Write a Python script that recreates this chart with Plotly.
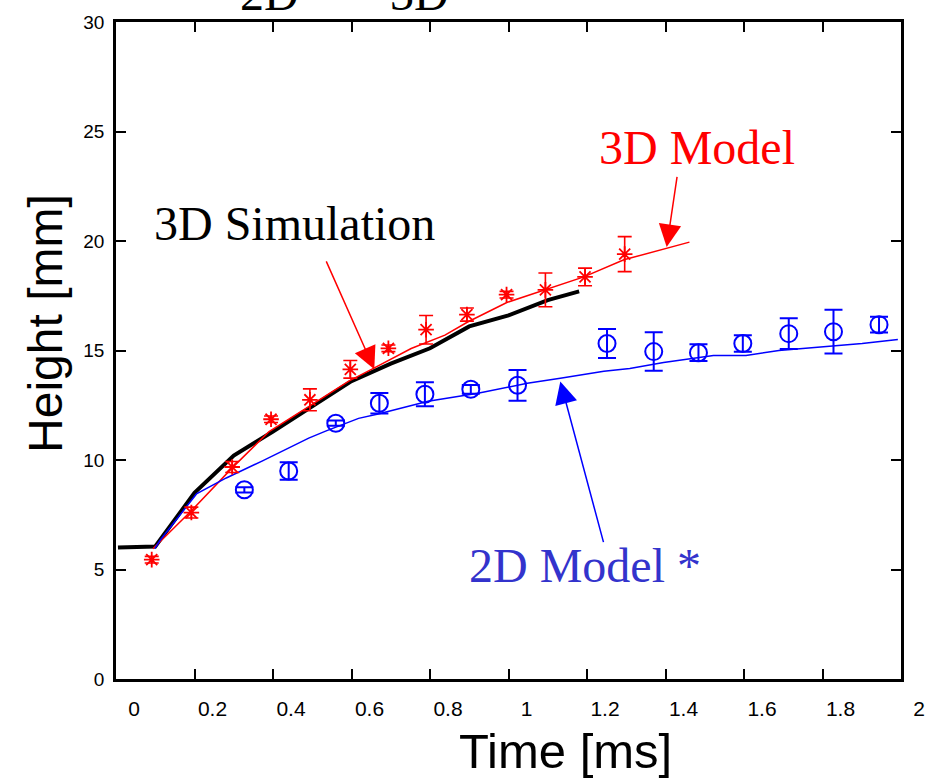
import plotly.graph_objects as go

# ---- data -------------------------------------------------------------
# 3D simulation (thick black polyline)
sim_t = [0.005, 0.10, 0.20, 0.30, 0.40, 0.50, 0.60, 0.70, 0.80, 0.90, 1.00, 1.10, 1.18]
sim_h = [6.00, 6.05, 8.50, 10.20, 11.30, 12.45, 13.60, 14.40, 15.10, 16.10, 16.60, 17.30, 17.70]

# 3D model (thin red curve)
m3_t = [0.094, 0.192, 0.296, 0.390, 0.492, 0.593, 0.651, 0.752, 0.838, 0.896,
        0.997, 1.091, 1.192, 1.294, 1.385, 1.461]
m3_h = [5.95, 7.68, 9.64, 11.30, 12.45, 13.60, 14.14, 15.09, 15.70, 16.30,
        17.20, 17.77, 18.36, 19.14, 19.60, 19.95]

# 2D model (thin blue curve)
m2_t = [0.099, 0.111, 0.205, 0.281, 0.372, 0.491, 0.534, 0.618, 0.668, 0.795,
        0.922, 1.048, 1.132, 1.243, 1.309, 1.395, 1.522, 1.605, 1.689, 1.815,
        1.901, 1.992]
m2_h = [5.95, 6.30, 8.45, 9.18, 9.95, 11.00, 11.32, 11.90, 12.10, 12.68,
        13.05, 13.50, 13.73, 14.05, 14.18, 14.45, 14.77, 14.77, 15.00, 15.18,
        15.32, 15.50]

# 3D experiment (red asterisks with error bars)
e3_t = [0.091, 0.192, 0.296, 0.395, 0.494, 0.597, 0.694, 0.790, 0.894, 0.995,
        1.094, 1.195, 1.296]
e3_h = [5.45, 7.60, 9.68, 11.86, 12.75, 14.14, 15.10, 15.95, 16.64, 17.55,
        17.77, 18.36, 19.40]
e3_err = [0.15, 0.25, 0.25, 0.15, 0.50, 0.40, 0.15, 0.65, 0.30, 0.15,
          0.77, 0.40, 0.80]

# 2D experiment (blue circles with error bars)
e2_t = [0.327, 0.440, 0.560, 0.671, 0.787, 0.904, 1.023, 1.251, 1.370, 1.484,
        1.597, 1.714, 1.828, 1.944]
e2_h = [8.64, 9.50, 11.68, 12.59, 13.00, 13.23, 13.41, 15.32, 14.95, 14.90,
        15.32, 15.77, 15.86, 16.18]
e2_err = [0.12, 0.40, 0.12, 0.47, 0.55, 0.20, 0.70, 0.66, 0.88, 0.38,
          0.38, 0.70, 1.00, 0.36]

x_ticks = [0, 0.2, 0.4, 0.6, 0.8, 1.0, 1.2, 1.4, 1.6, 1.8, 2.0]
x_tick_text = ["0", "0.2", "0.4", "0.6", "0.8", "1", "1.2", "1.4", "1.6", "1.8", "2"]
y_ticks = [0, 5, 10, 15, 20, 25, 30]

RED = "#ff0000"
BLUE = "#0000ff"
SERIF = "Liberation Serif, Times New Roman, serif"
SANS = "Liberation Sans, Arial, sans-serif"
NARROW = "Liberation Sans Narrow, Arial Narrow, Liberation Sans, sans-serif"

fig = go.Figure()

fig.add_trace(go.Scatter(x=sim_t, y=sim_h, mode="lines",
                         line=dict(color="black", width=4), showlegend=False))
fig.add_trace(go.Scatter(x=m3_t, y=m3_h, mode="lines",
                         line=dict(color=RED, width=1.5), showlegend=False))
fig.add_trace(go.Scatter(x=m2_t, y=m2_h, mode="lines",
                         line=dict(color=BLUE, width=1.5), showlegend=False))
fig.add_trace(go.Scatter(
    x=e3_t, y=e3_h, mode="markers",
    marker=dict(symbol="asterisk-open", size=13, color=RED, line=dict(color=RED, width=1.8)),
    error_y=dict(type="data", array=e3_err, color=RED, thickness=1.6, width=7),
    showlegend=False))
fig.add_trace(go.Scatter(
    x=e2_t, y=e2_h, mode="markers",
    marker=dict(symbol="circle-open", size=17, color=BLUE, line=dict(color=BLUE, width=2)),
    error_y=dict(type="data", array=e2_err, color=BLUE, thickness=2, width=9),
    showlegend=False))

axis_common = dict(showline=True, linecolor="black", linewidth=2.5, mirror="ticks",
                   ticks="inside", ticklen=10, tickwidth=2, tickcolor="black",
                   showgrid=False, zeroline=False)

fig.update_xaxes(range=[0, 2], tickvals=x_ticks, ticktext=x_tick_text,
                 tickfont=dict(family=NARROW, size=21, color="black"),
                 ticklabelshift=18, ticklabelstandoff=9, **axis_common)
fig.update_yaxes(range=[0, 30], tickvals=y_ticks,
                 tickfont=dict(family=SANS, size=19, color="black"),
                 ticklabelstandoff=5, **axis_common)


def label(text, x, y, size, color, **kw):
    return dict(text=text, xref="paper", yref="paper", x=x, y=y,
                xanchor="center", yanchor=kw.pop("yanchor", "middle"),
                showarrow=False, font=dict(family=kw.pop("family", SERIF), size=size, color=color),
                **kw)


def pointer(x, y, ax, ay, color):
    return dict(text="", x=x, y=y, ax=ax, ay=ay, xref="x", yref="y",
                axref="x", ayref="y", showarrow=True, arrowhead=2, arrowsize=3,
                arrowwidth=1.5, arrowcolor=color)


annotations = [
    # axis titles
    label("Height [mm]", -0.09, 0.541, 48, "black", family=SANS, textangle=-90),
    label("Time [ms]", 0.573, -0.11, 49, "black", family=SANS),
    # curve labels
    label("3D Simulation", 0.228, 0.694, 48, "black"),
    label("3D Model", 0.740, 0.809, 48, RED),
    label("2D Model *", 0.598, 0.173, 48, "#3333cc"),
    # heading text partly above the frame
    label("2D", 0.195, 1.0, 48, "black", yanchor="bottom"),
    label("3D", 0.387, 1.0, 48, "black", yanchor="bottom"),
    # pointer arrows
    pointer(0.658, 14.14, 0.534, 19.14, RED),
    pointer(1.403, 19.73, 1.430, 23.0, RED),
    pointer(1.132, 13.59, 1.243, 6.18, BLUE),
]

fig.update_layout(width=937, height=780,
                  margin=dict(l=116, r=31, t=19, b=101),
                  plot_bgcolor="white", paper_bgcolor="white",
                  annotations=annotations)

fig.write_html("out.html")
